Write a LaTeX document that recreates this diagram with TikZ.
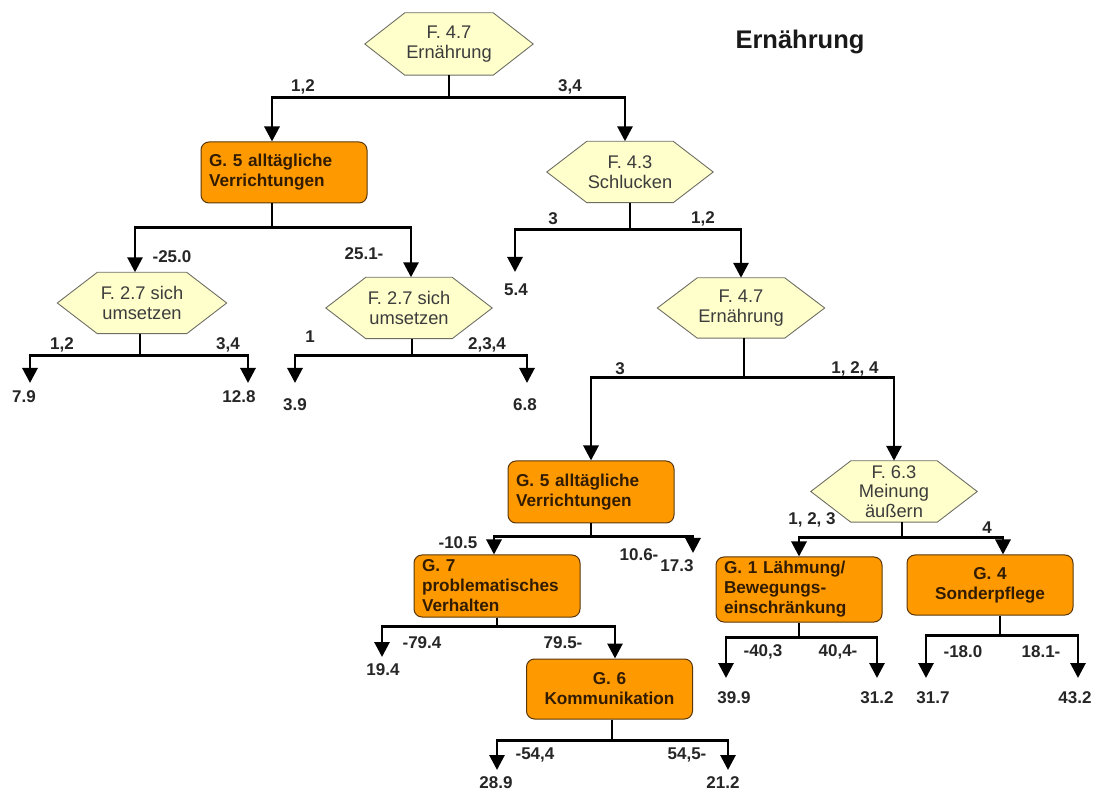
\documentclass[tikz,border=0pt]{standalone}
\usepackage{fontspec}
\setmainfont{Liberation Sans}
\usetikzlibrary{arrows.meta,backgrounds}
\definecolor{boxorange}{RGB}{255,153,0}
\definecolor{boxborder}{RGB}{90,55,10}
\definecolor{hexfill}{RGB}{255,255,204}
\definecolor{hexborder}{RGB}{110,110,100}
\definecolor{boxtext}{RGB}{50,28,0}
\definecolor{hextext}{RGB}{60,60,60}
\begin{document}
\begin{tikzpicture}[x=1pt,y=-1pt,
  hex/.style={rectangle, inner sep=0pt, align=center, text=hextext,
    font=\fontsize{18.3}{20}\selectfont},
  gbox/.style={rectangle, rounded corners=8pt, draw=boxborder, line width=1pt,
    fill=boxorange, text=boxtext, font=\bfseries\fontsize{17.2}{20}\selectfont,
    inner xsep=8pt, inner ysep=0pt, text width=150pt},
  lab/.style={font=\bfseries\fontsize{17}{19}\selectfont, text=black!85, inner sep=0pt},
  conn/.style={line width=2.9pt, -{Triangle[width=15pt,length=15pt]}, line join=miter}]
\useasboundingbox (0,0) rectangle (1096,791);

% title
\node[font=\bfseries\fontsize{25.5}{28}\selectfont, text=black!90] (title) at (800,42) {Ernährung};

% question (hexagon) nodes
\node[hex, minimum width=168pt, minimum height=62pt] (hA) at (449,44) {F. 4.7\\Ernährung};
\node[hex, minimum width=166pt, minimum height=61pt] (hD) at (630,172) {F. 4.3\\Schlucken};
\node[hex, minimum width=169pt, minimum height=61pt] (hB) at (142,303) {F. 2.7 sich\\umsetzen};
\node[hex, minimum width=166pt, minimum height=61pt] (hC) at (409,308) {F. 2.7 sich\\umsetzen};
\node[hex, minimum width=167pt, minimum height=60pt] (hE) at (741,308) {F. 4.7\\Ernährung};
\node[hex, minimum width=166pt, minimum height=61pt, font=\fontsize{18.3}{19.5}\selectfont] (hF) at (894,491.5) {F. 6.3\\Meinung\\äußern};

\begin{scope}[on background layer]
\foreach \n in {hA,hB,hC,hD,hE,hF}{
  \filldraw[fill=hexfill, draw=hexborder, line width=0.9pt]
    (\n.west) -- ([xshift=40pt]\n.north west) -- ([xshift=-40pt]\n.north east)
    -- (\n.east) -- ([xshift=-40pt]\n.south east) -- ([xshift=40pt]\n.south west) -- cycle;
}
\end{scope}

% group boxes
\node[gbox, minimum height=61pt, align=left] (bA) at (284,172.5) {G. 5 alltägliche\\Verrichtungen};
\node[gbox, minimum height=62pt, align=left] (bB) at (591,492) {G. 5 alltägliche\\Verrichtungen};
\node[gbox, minimum height=62pt, align=left] (bC) at (497,586) {G. 7\\problematisches\\Verhalten};
\node[gbox, minimum height=60pt, align=center] (bD) at (609.5,689) {G. 6\\Kommunikation};
\node[gbox, minimum height=65pt, align=left] (bE) at (799,589.5) {G. 1 Lähmung/\\Bewegungs-\\einschränkung};
\node[gbox, minimum height=60pt, align=center] (bF) at (990,585) {G. 4\\Sonderpflege};

% leaf arrow ends
\coordinate (tD1) at (515,272);
\coordinate (tB1) at (30,383);
\coordinate (tB2) at (248,383);
\coordinate (tC1) at (295,383);
\coordinate (tC2) at (527,383);
\coordinate (tBB) at (693,553);
\coordinate (tCC) at (382,657);
\coordinate (tD1b) at (497,770);
\coordinate (tD2b) at (728,770);
\coordinate (tE1) at (726,678);
\coordinate (tE2) at (877,678);
\coordinate (tF1) at (926,678);
\coordinate (tF2) at (1078,678);

% connectors
\draw[conn] (hA.south) -- ++(0,22) -| ([xshift=-12pt]bA.north);
\draw[conn] (hA.south) -- ++(0,22) -| ([xshift=-5pt]hD.north);
\draw[conn] (hD.south) -- ++(0,26.5) -| (tD1);
\draw[conn] (hD.south) -- ++(0,26.5) -| (hE.north);
\draw[conn] ([xshift=-12pt]bA.south) -- ++(0,24) -| ([xshift=-7pt]hB.north);
\draw[conn] ([xshift=-12pt]bA.south) -- ++(0,24) -| ([xshift=2pt]hC.north);
\draw[conn] ([xshift=-2pt]hB.south) -- ++(0,21.5) -| (tB1);
\draw[conn] ([xshift=-2pt]hB.south) -- ++(0,21.5) -| (tB2);
\draw[conn] ([xshift=3pt]hC.south) -- ++(0,16.5) -| (tC1);
\draw[conn] ([xshift=3pt]hC.south) -- ++(0,16.5) -| (tC2);
\draw[conn] ([xshift=3pt]hE.south) -- ++(0,39) -| (bB.north);
\draw[conn] ([xshift=3pt]hE.south) -- ++(0,39) -| (hF.north);
\draw[conn] (bB.south) -- ++(0,13) -| ([xshift=-3pt]bC.north);
\draw[conn] (bB.south) -- ++(0,13) -| (tBB);
\draw[conn] (bC.south) -- ++(0,9) -| (tCC);
\draw[conn] (bC.south) -- ++(0,9) -| ([xshift=5.5pt]bD.north);
\draw[conn] ([xshift=2.5pt]bD.south) -- ++(0,21) -| (tD1b);
\draw[conn] ([xshift=2.5pt]bD.south) -- ++(0,21) -| (tD2b);
\draw[conn] ([xshift=8pt]hF.south) -- ++(0,15) -| (bE.north);
\draw[conn] ([xshift=8pt]hF.south) -- ++(0,15) -| ([xshift=13pt]bF.north);
\draw[conn] (bE.south) -- ++(0,15) -| (tE1);
\draw[conn] (bE.south) -- ++(0,15) -| (tE2);
\draw[conn] ([xshift=10pt]bF.south) -- ++(0,20) -| (tF1);
\draw[conn] ([xshift=10pt]bF.south) -- ++(0,20) -| (tF2);

% branch labels and leaf values
\node[lab] (l1) at (303,87) {1,2};
\node[lab] (l2) at (570,87) {3,4};
\node[lab] (l3) at (553,219) {3};
\node[lab] (l4) at (703,219) {1,2};
\node[lab] (v1) at (516,290) {5.4};
\node[lab] (l5) at (172,257) {-25.0};
\node[lab] (l6) at (364,254) {25.1-};
\node[lab] (l7) at (62,345) {1,2};
\node[lab] (l8) at (228,345) {3,4};
\node[lab] (v2) at (24,397) {7.9};
\node[lab] (v3) at (239,397) {12.8};
\node[lab] (l9) at (310,337) {1};
\node[lab] (l10) at (487,345) {2,3,4};
\node[lab] (v4) at (295,405) {3.9};
\node[lab] (v5) at (525,405) {6.8};
\node[lab] (l11) at (620,369) {3};
\node[lab] (l12) at (855,369) {1, 2, 4};
\node[lab] (l13) at (458,543) {-10.5};
\node[lab] (l14) at (639,555) {10.6-};
\node[lab] (v6) at (677,566) {17.3};
\node[lab] (l15) at (422,643) {-79.4};
\node[lab] (l16) at (563,643) {79.5-};
\node[lab] (v7) at (383,670) {19.4};
\node[lab] (l17) at (535,755) {-54,4};
\node[lab] (l18) at (687,755) {54,5-};
\node[lab] (v8) at (496,783) {28.9};
\node[lab] (v9) at (723,783) {21.2};
\node[lab] (l19) at (812,520) {1, 2, 3};
\node[lab] (l20) at (987,528) {4};
\node[lab] (l21) at (763,652) {-40,3};
\node[lab] (l22) at (838,652) {40,4-};
\node[lab] (v10) at (734,698) {39.9};
\node[lab] (v11) at (877,698) {31.2};
\node[lab] (l23) at (963,652) {-18.0};
\node[lab] (l24) at (1041,652) {18.1-};
\node[lab] (v12) at (933,698) {31.7};
\node[lab] (v13) at (1075,698) {43.2};
\end{tikzpicture}
\end{document}
